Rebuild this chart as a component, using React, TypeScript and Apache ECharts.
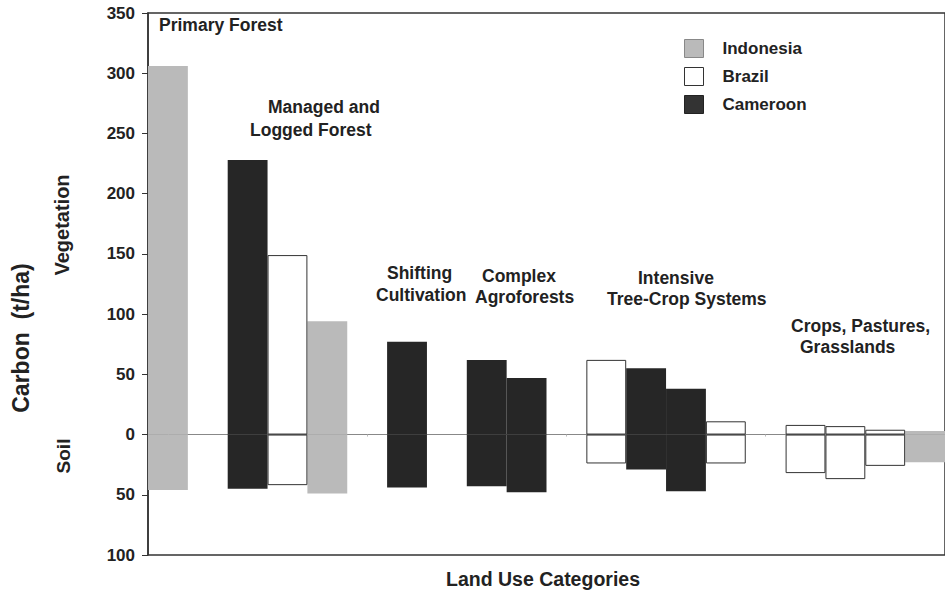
import React, { useEffect, useRef } from "react";
import * as echarts from "echarts";

// 20 equal-width slots along the land-use axis (gaps separate the groups)
const slots = [
  "Primary Forest · Indonesia",
  "gap1",
  "Managed · Cameroon",
  "Managed · Brazil",
  "Managed · Indonesia",
  "gap2",
  "Shifting · Cameroon",
  "gap3",
  "Complex · Cameroon A",
  "Complex · Cameroon B",
  "gap4",
  "Intensive · Brazil A",
  "Intensive · Cameroon A",
  "Intensive · Cameroon B",
  "Intensive · Brazil B",
  "gap5",
  "Crops · Brazil A",
  "Crops · Brazil B",
  "Crops · Brazil C",
  "Crops · Indonesia",
];

// Vegetation carbon (t/ha, above zero)
const indonesiaVeg = [306, null, null, null, 94, null, null, null, null, null, null, null, null, null, null, null, null, null, null, 3];
const brazilVeg = [null, null, null, 149, null, null, null, null, null, null, null, 62, null, null, 11, null, 8, 7, 4, null];
const cameroonVeg = [null, null, 228, null, null, null, 77, null, 62, 47, null, null, 55, 38, null, null, null, null, null, null];

// Soil carbon (t/ha, drawn below zero)
const indonesiaSoil = [46, null, null, null, 49, null, null, null, null, null, null, null, null, null, null, null, null, null, null, 23];
const brazilSoil = [null, null, null, 42, null, null, null, null, null, null, null, 24, null, null, 24, null, 32, 37, 26, null];
const cameroonSoil = [null, null, 45, null, null, null, 44, null, 43, 48, null, null, 29, 47, null, null, null, null, null, null];

const yTicks = { min: -100, max: 350, interval: 50 };

const FONT = "'Liberation Sans', Arial, Helvetica, sans-serif";

const groupLabels = [
  { text: "Primary Forest", x: 159, y: 25 },
  { text: "Managed and", x: 268, y: 107 },
  { text: "Logged Forest", x: 250, y: 130 },
  { text: "Shifting", x: 387, y: 273 },
  { text: "Cultivation", x: 376, y: 295 },
  { text: "Complex", x: 482, y: 276 },
  { text: "Agroforests", x: 475, y: 297 },
  { text: "Intensive", x: 638, y: 278 },
  { text: "Tree-Crop Systems", x: 607, y: 299 },
  { text: "Crops, Pastures,", x: 791, y: 326 },
  { text: "Grasslands", x: 800, y: 347 },
];

const colors = {
  Indonesia: { color: "#bababa", borderColor: "#a8a8a8", borderWidth: 0 },
  Brazil: { color: "#ffffff", borderColor: "#333333", borderWidth: 1 },
  Cameroon: { color: "#262626", borderColor: "#262626", borderWidth: 0 },
};

export default function App() {
  const ref = useRef<HTMLDivElement>(null);

  useEffect(() => {
    document.body.style.margin = "0";
    if (!ref.current) return;
    const chart = echarts.init(ref.current, null, { renderer: "svg" });

    const mk = (name: keyof typeof colors, vals: (number | null)[], neg: boolean) => ({
      name,
      type: "bar",
      stack: "all",
      barCategoryGap: "0%",
      data: vals.map((v) => (v == null ? "-" : neg ? -v : v)),
      itemStyle: { ...colors[name] },
      emphasis: { disabled: true },
    });

    const text = (t: string, x: number, y: number, size: number, rot = 0, align = "left") => ({
      type: "text",
      x,
      y,
      rotation: rot,
      z: 10,
      style: {
        text: t,
        fill: "#222",
        font: `bold ${size}px ${FONT}`,
        textAlign: align,
        textVerticalAlign: "middle",
      },
    });

    const option: any = {
      animation: false,
      tooltip: { show: false },
      grid: {
        left: 148,
        top: 13,
        width: 800,
        height: 542,
        show: true,
        borderColor: "#333",
        borderWidth: 1.5,
        backgroundColor: "transparent",
      },
      legend: {
        orient: "vertical",
        left: 684,
        top: 39,
        padding: 0,
        itemWidth: 19,
        itemHeight: 18,
        itemGap: 9,
        selectedMode: false,
        icon: "rect",
        textStyle: {
          fontFamily: FONT,
          fontSize: 17,
          fontWeight: "bold",
          color: "#222",
          padding: [0, 0, 0, 14],
        },
        data: [
          { name: "Indonesia", itemStyle: { color: "#bababa", borderColor: "#888", borderWidth: 1 } },
          { name: "Brazil", itemStyle: { color: "#fff", borderColor: "#333", borderWidth: 1 } },
          { name: "Cameroon", itemStyle: { color: "#333", borderColor: "#222", borderWidth: 1 } },
        ],
      },
      xAxis: {
        type: "category",
        data: slots,
        axisLine: { onZero: true, lineStyle: { color: "#888", width: 1 } },
        axisTick: { show: true, alignWithLabel: true, length: 2, lineStyle: { color: "#bbb" } },
        axisLabel: { show: false },
        splitLine: { show: false },
        z: 0,
      },
      yAxis: {
        type: "value",
        min: yTicks.min,
        max: yTicks.max,
        interval: yTicks.interval,
        axisLine: { show: true, lineStyle: { color: "#333", width: 1.5 } },
        axisTick: { show: true, length: 6, lineStyle: { color: "#333" } },
        splitLine: { show: false },
        axisLabel: {
          formatter: (v: number) => String(Math.abs(v)),
          fontFamily: FONT,
          fontSize: 17,
          fontWeight: "bold",
          color: "#222",
          margin: 13,
        },
      },
      series: [
        mk("Indonesia", indonesiaVeg, false),
        mk("Indonesia", indonesiaSoil, true),
        mk("Brazil", brazilVeg, false),
        mk("Brazil", brazilSoil, true),
        mk("Cameroon", cameroonVeg, false),
        mk("Cameroon", cameroonSoil, true),
      ],
      graphic: [
        ...groupLabels.map((g) => text(g.text, g.x, g.y, 17.5)),
        text("Land Use Categories", 543, 579, 19.5, 0, "center"),
        text("Carbon  (t/ha)", 21, 338, 23, Math.PI / 2, "center"),
        text("Vegetation", 62, 225, 20, Math.PI / 2, "center"),
        text("Soil", 63, 456, 19, Math.PI / 2, "center"),
      ],
    };

    chart.setOption(option);
    return () => chart.dispose();
  }, []);

  return <div ref={ref} style={{ width: 945, height: 594, background: "#fff", overflow: "hidden" }} />;
}
